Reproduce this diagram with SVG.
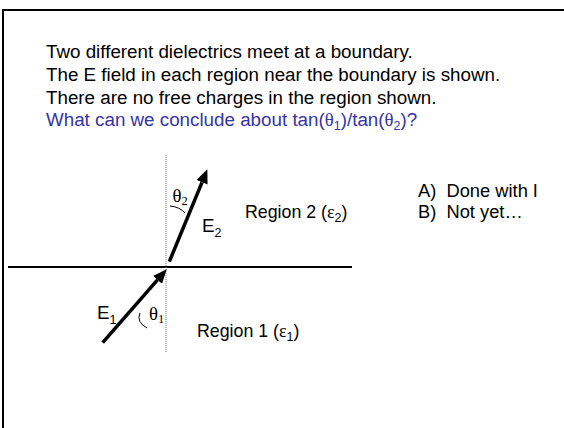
<svg xmlns="http://www.w3.org/2000/svg" width="564" height="428" viewBox="0 0 564 428">
<style>
.t{font-family:"Liberation Sans",Arial,sans-serif;font-size:18.8px;fill:#000}
.a{font-size:18.3px}
.r{font-size:17.8px}
.q{fill:#3535a5}
.g{font-family:"Liberation Serif","Times New Roman",serif}
.s{font-size:12.5px}
.arr{stroke:#000;stroke-width:3.5;fill:none;marker-end:url(#ah)}
.arc{stroke:#000;stroke-width:1;fill:none}
</style>
<defs>
<marker id="ah" markerUnits="userSpaceOnUse" markerWidth="14" markerHeight="12" refX="0" refY="6" orient="auto" viewBox="0 0 14 12">
<path d="M0,0 L14,6 L0,12 z" fill="#000"/>
</marker>
</defs>
<rect width="564" height="428" fill="#fff"/>
<rect id="frame" x="3" y="10" width="600" height="500" fill="none" stroke="#000" stroke-width="2"/>
<g id="question">
<text class="t" x="46" y="58">Two different dielectrics meet at a boundary.</text>
<text class="t" x="46" y="81">The E field in each region near the boundary is shown.</text>
<text class="t" x="46" y="103.5">There are no free charges in the region shown.</text>
<text class="t q" x="46" y="126">What can we conclude about tan(<tspan class="g">θ</tspan><tspan class="s" dy="4">1</tspan><tspan dy="-4">)/tan(</tspan><tspan class="g">θ</tspan><tspan class="s" dy="4">2</tspan><tspan dy="-4">)?</tspan></text>
</g>
<g id="answers">
<text class="t a" x="418" y="196.7">A)<tspan x="446.5">Done with I</tspan></text>
<text class="t a" x="418" y="218">B)<tspan x="446.5">Not yet…</tspan></text>
</g>
<g id="boundary">
<line x1="8" y1="267" x2="352" y2="267" stroke="#000" stroke-width="2"/>
<line id="normal" x1="166" y1="155" x2="166" y2="352" stroke="#777" stroke-width="1" stroke-dasharray="1,1"/>
</g>
<g id="connectors">
<line id="E1arrow" class="arr" x1="102.7" y1="342.7" x2="157.5" y2="279.9"/>
<line id="E2arrow" class="arr" x1="169.3" y1="261.7" x2="202" y2="182.3"/>
<path class="arc" d="M170,206 Q180,207 185,213"/>
<path class="arc" d="M140,313 Q136,322 147,328"/>
</g>
<g id="labels">
<text class="t" x="97" y="319" font-size="17">E<tspan class="s" dy="5">1</tspan></text>
<text class="t" x="202" y="232" font-size="17">E<tspan class="s" dy="5">2</tspan></text>
<text class="t g" x="172.5" y="202" font-size="16">θ<tspan class="s" dy="3">2</tspan></text>
<text class="t g" x="149" y="320" font-size="16">θ<tspan class="s" dy="3">1</tspan></text>
</g>
<g id="region2">
<text class="t r" x="245" y="217.7">Region 2 (<tspan class="g">ε</tspan><tspan class="s" dy="4">2</tspan><tspan dy="-4">)</tspan></text>
</g>
<g id="region1">
<text class="t r" x="197" y="336.7">Region 1 (<tspan class="g">ε</tspan><tspan class="s" dy="4">1</tspan><tspan dy="-4">)</tspan></text>
</g>
</svg>
